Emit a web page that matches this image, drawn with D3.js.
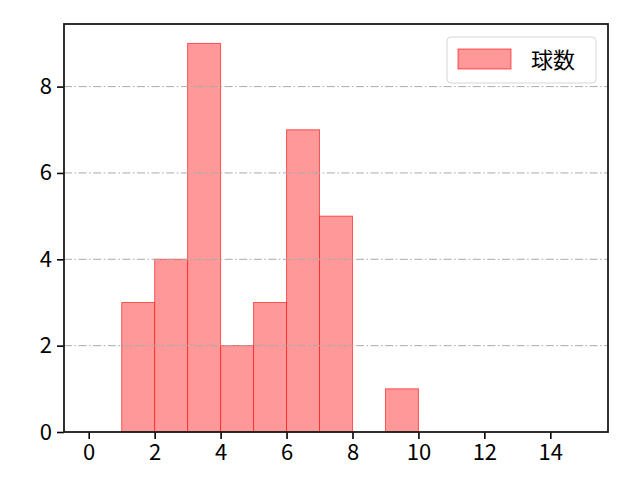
<!DOCTYPE html>
<html>
<head>
<meta charset="utf-8">
<script src="https://cdn.jsdelivr.net/npm/d3@7"></script>
<style>
  body { margin: 0; background: #fff; }
  text { font-family: "Noto Sans CJK JP", "Noto Sans", sans-serif; fill: #000; }
</style>
</head>
<body>
<div id="chart"></div>
<script>
// histogram bins (left edge, right edge) and counts
const binStarts = [1, 2, 3, 4, 5, 6, 7, 9];
const binEnds = [2, 3, 4, 5, 6, 7, 8, 10];
const counts = [3, 4, 9, 2, 3, 7, 5, 1];
const xTicks = [0, 2, 4, 6, 8, 10, 12, 14];
const yTicks = [0, 2, 4, 6, 8];
const gridTicks = [2, 4, 6, 8];
const seriesName = "球数";

const W = 640, H = 480;
const margin = { top: 24, right: 32, bottom: 48, left: 64 };
const width = W - margin.left - margin.right,
  height = H - margin.top - margin.bottom;

const svg = d3.select("#chart").append("svg")
  .attr("width", W).attr("height", H);

const g = svg.append("g")
  .attr("transform", `translate(${margin.left}, ${margin.top})`);

const x = d3.scaleLinear().domain([-0.75, 15.75]).range([0, width]);
const y = d3.scaleLinear().domain([0, 9.45]).range([height, 0]);

const bins = counts.map((c, i) => ({ x0: binStarts[i], x1: binEnds[i], n: c }));

g.append("g").selectAll("rect")
  .data(bins)
  .join("rect")
  .attr("x", (d) => x(d.x0))
  .attr("y", (d) => y(d.n))
  .attr("width", (d) => x(d.x1) - x(d.x0))
  .attr("height", (d) => y(0) - y(d.n))
  .attr("fill", "#ff9999")
  .attr("stroke", "rgba(255,0,0,0.6)")
  .attr("stroke-width", 1);

// grid on top of bars, like the source
g.append("g").selectAll("line")
  .data(gridTicks)
  .join("line")
  .attr("x1", 0).attr("x2", width)
  .attr("y1", (d) => y(d)).attr("y2", (d) => y(d))
  .attr("stroke", "#aaaaaa")
  .attr("stroke-width", 1)
  .attr("stroke-dasharray", "8,2.5,1.6,2.5");

const xAxis = g.append("g")
  .attr("transform", `translate(0, ${height})`)
  .call(d3.axisBottom(x).tickValues(xTicks).tickSize(7).tickPadding(5).tickSizeOuter(0));
const yAxis = g.append("g")
  .call(d3.axisLeft(y).tickValues(yTicks).tickSize(7).tickPadding(5).tickSizeOuter(0));

[xAxis, yAxis].forEach((a) => {
  a.select(".domain").remove();
  a.selectAll(".tick line").attr("stroke", "#000").attr("stroke-width", 1.6);
  a.selectAll(".tick text").style("font-size", "22px").attr("fill", "#000");
});

// frame
g.append("rect")
  .attr("width", width).attr("height", height)
  .attr("fill", "none").attr("stroke", "#1a1a1a").attr("stroke-width", 1.8);

// legend
const leg = g.append("g").attr("transform", `translate(${width - 161}, 13)`);
leg.append("rect")
  .attr("width", 149).attr("height", 46).attr("rx", 4)
  .attr("fill", "#fff").attr("fill-opacity", 0.8)
  .attr("stroke", "#d6d6d6").attr("stroke-width", 1);
leg.append("rect")
  .attr("x", 11).attr("y", 12).attr("width", 53).attr("height", 20)
  .attr("fill", "#ff9999").attr("stroke", "rgba(255,0,0,0.6)");
leg.append("text")
  .attr("x", 84).attr("y", 23).attr("dy", "0.35em")
  .style("font-size", "22px")
  .text(seriesName);
</script>
</body>
</html>
